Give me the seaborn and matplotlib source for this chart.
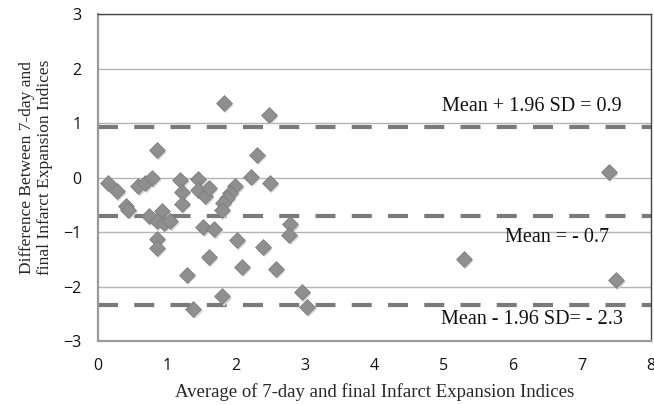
import pandas as pd
import numpy as np
import matplotlib.pyplot as plt
import matplotlib.transforms as mtransforms
import seaborn as sns

sns.set_theme(style="white")

# Bland-Altman data
avg_index = [0.14, 0.27, 0.40, 0.44, 0.58, 0.68, 0.78, 0.73, 0.92, 0.85,
             0.95, 1.04, 0.85, 0.85, 0.85, 1.19, 1.21, 1.21, 1.45, 1.45,
             1.55, 1.60, 1.82, 2.47, 2.30, 1.98, 1.91, 1.86, 1.81, 1.79,
             2.22, 2.49, 1.52, 1.68, 2.01, 2.39, 2.78, 2.77, 1.60, 2.08,
             2.57, 1.28, 1.80, 1.38, 2.95, 3.03, 7.39, 5.29, 7.50]
diff_index = [-0.10, -0.25, -0.53, -0.59, -0.16, -0.10, -0.01, -0.70, -0.62, -0.80,
              -0.83, -0.80, -1.12, -1.29, 0.50, -0.04, -0.26, -0.48, -0.03, -0.22,
              -0.34, -0.19, 1.37, 1.15, 0.42, -0.16, -0.28, -0.37, -0.46, -0.59,
              0.02, -0.10, -0.91, -0.95, -1.15, -1.27, -0.86, -1.05, -1.46, -1.64,
              -1.68, -1.78, -2.18, -2.41, -2.10, -2.37, 0.10, -1.50, -1.88]

mean_diff = -0.71
upper_loa = 0.93
lower_loa = -2.33
ref_lines = [upper_loa, mean_diff, lower_loa]
ref_labels = ["Mean + 1.96 SD = 0.9", "Mean = - 0.7", "Mean - 1.96 SD= - 2.3"]
label_pos = [(7.58, 1.30), (7.40, -1.10), (7.60, -2.60)]

df = pd.DataFrame({"avg": avg_index, "diff": diff_index})

fig = plt.figure(figsize=(6.54, 4.05), dpi=100)
ax = fig.add_axes([0.150, 0.158, 0.845, 0.807])

ax.set_xlim(0, 8)
ax.set_ylim(-3, 3)
ax.set_yticks(range(-3, 4))
ax.set_xticks(range(0, 9))
ax.yaxis.grid(True, color="#b4b4b4", linewidth=1.0)
ax.set_axisbelow(True)

# dashed reference lines
for yv in ref_lines:
    ax.axhline(yv, color="#7a7a7a", linewidth=3.0, dashes=(4.8, 3.9), zorder=2)

# soft shadow under the markers
shadow = mtransforms.offset_copy(ax.transData, fig=fig, x=1.2, y=-1.6, units="points")
ax.scatter(df["avg"], df["diff"], marker="D", s=64, color="#d2d2d2",
           edgecolor="none", transform=shadow, zorder=3)
sns.scatterplot(data=df, x="avg", y="diff", marker="D", s=64, color="#8f8f8f",
                edgecolor="#7e7e7e", linewidth=0.6, ax=ax, zorder=4)

for (tx, ty), txt in zip(label_pos, ref_labels):
    ax.text(tx, ty, txt, ha="right", va="center", fontsize=14.5,
            family="Liberation Serif", color="#111111", zorder=5)

ax.set_xlabel("Average of 7-day and final Infarct Expansion Indices",
              fontsize=13.5, family="Liberation Serif", labelpad=7)
ax.set_ylabel("Difference Between 7-day and\nfinal Infarct Expansion Indices",
              fontsize=12.5, family="Liberation Serif", linespacing=1.2)
ax.yaxis.set_label_coords(-0.081, 0.53)

for side in ["left", "bottom"]:
    ax.spines[side].set_color("#9a9a9a")
    ax.spines[side].set_linewidth(1.6)
for side in ["top", "right"]:
    ax.spines[side].set_color("#444444")
    ax.spines[side].set_linewidth(1.0)

ax.tick_params(axis="both", direction="inout", length=6, width=1.0,
               color="#9a9a9a", labelsize=11.5, labelcolor="#111111")
ax.tick_params(axis="x", pad=9)
ax.tick_params(axis="y", pad=9)
for lab in ax.get_xticklabels() + ax.get_yticklabels():
    lab.set_family("Open Sans")

fig.savefig("out.png", dpi=100)
